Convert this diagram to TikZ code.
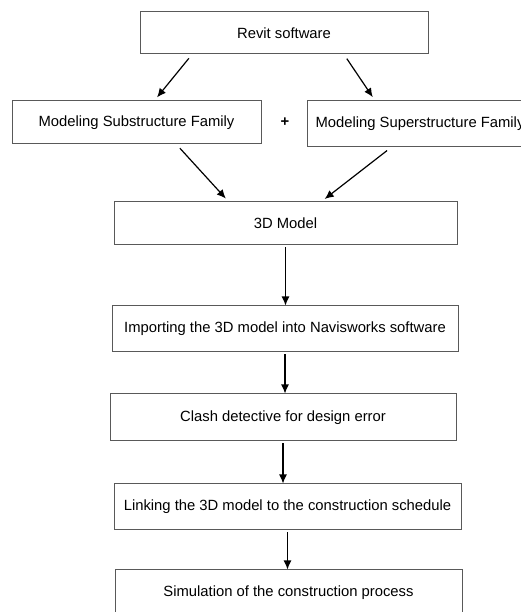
\documentclass[tikz,border=0pt]{standalone}
\usepackage{fontspec}
\setmainfont{Liberation Sans}
\usetikzlibrary{arrows.meta,positioning}
\tikzset{
    caja/.style={rectangle,draw=black!65,line width=1pt,fill=white,inner sep=0pt,align=center},
    flecha/.style={draw,line width=1.2pt,-{Latex[length=9pt,width=8pt]}},
    diag/.style={flecha,shorten <=5pt,shorten >=4pt},
}

\begin{document}
\begin{tikzpicture}[
    x=1pt, y=1pt,
    every node/.style={font=\fontsize{14.8}{17}\selectfont},
]
    \useasboundingbox (0,0) rectangle (521,612);
    \fill [white] (0,0) rectangle (521,612);
    \clip (0,0) rectangle (521,612);

    \node [caja,minimum width=288pt,minimum height=42pt] (revit)    at (284,579)   {Revit software};
    \node [caja,minimum width=249pt,minimum height=43pt] (subfam)   at (136.5,489.5) {Modeling Substructure Family};
    \node [caja,minimum width=226pt,minimum height=46pt] (superfam) at (420,488)   {Modeling Superstructure Family};
    \node (mas) at (285,490) {\textbf{+}};
    \path [diag] ([xshift=-92pt]revit.south) -- ([xshift=18pt]subfam.north);
    \path [diag] ([xshift=60pt]revit.south) -- ([xshift=-45pt]superfam.north);

    \node [caja,minimum width=343pt,minimum height=43pt] (modelo) at (285.5,388.5) {3D Model};
    \path [diag] ([xshift=40pt]subfam.south) -- ([xshift=-57pt]modelo.north);
    \path [diag] ([xshift=-29pt]superfam.south) -- ([xshift=36pt]modelo.north);

    \node [caja,minimum width=346pt,minimum height=46pt] (importar) at (285,283) {Importing the 3D model into Navisworks software};
    \path [flecha] ([yshift=-2pt]modelo.south) -- (modelo.south |- importar.north);
    \node [caja,minimum width=346pt,minimum height=47pt] (choque) at (283,194.5) {Clash detective for design error};
    \path [flecha] ([yshift=-2pt]importar.south) -- (importar.south |- choque.north);
    \node [caja,minimum width=347pt,minimum height=46pt] (vinculo) at (287.5,105) {Linking the 3D model to the construction schedule};
    \path [flecha] ([yshift=-2pt]choque.south) -- (choque.south |- vinculo.north);
    \node [caja,minimum width=347pt,minimum height=46pt] (simular) at (288.5,19) {Simulation of the construction process};
    \path [flecha] ([yshift=-2pt]vinculo.south) -- (vinculo.south |- simular.north);
\end{tikzpicture}
\end{document}
